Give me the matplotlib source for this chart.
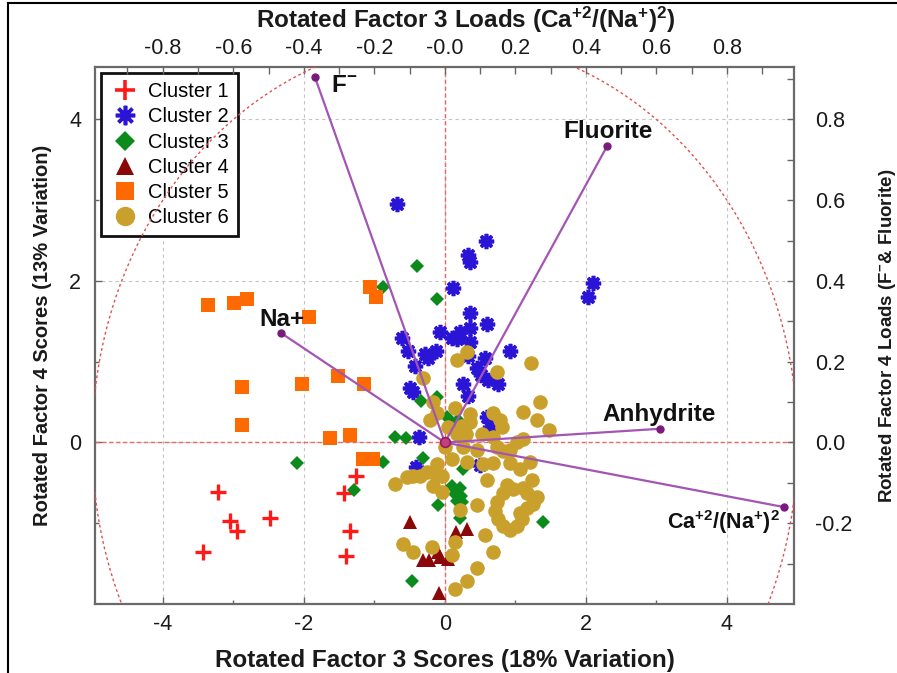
import numpy as np
import matplotlib
matplotlib.use("Agg")
import matplotlib.pyplot as plt
from matplotlib.lines import Line2D
from matplotlib.ticker import FormatStrFormatter

plt.rcParams['font.family'] = ['Liberation Sans', 'DejaVu Sans']
plt.rcParams['axes.unicode_minus'] = False
plt.rcParams['mathtext.fontset'] = 'custom'
plt.rcParams['mathtext.rm'] = 'Liberation Sans'
plt.rcParams['mathtext.bf'] = 'Liberation Sans:bold'

# ---- scores (Rotated Factor 3 vs Rotated Factor 4) per cluster ----
c1_x = [-3.22, -3.05, -2.94, -2.48, -3.43, -1.26, -1.43, -1.35, -1.40]
c1_y = [-0.61, -0.97, -1.10, -0.94, -1.36, -0.42, -0.63, -1.09, -1.41]

c2_x = [-0.68, 0.58, 0.33, 0.35, 0.11, 0.35, 0.60, -0.07, 0.21, 0.35, 0.10, 0.17,
        0.35, -0.61, -0.52, -0.28, -0.13, -0.24, -0.43, 0.92, 0.33, 0.57, 0.45,
        0.51, 0.61, 0.75, -0.50, -0.45, 0.26, 0.33, 0.10, 0.60, 0.64, -0.37,
        -0.41, 0.50, 2.10, 2.03]
c2_y = [2.95, 2.49, 2.32, 2.24, 1.91, 1.60, 1.47, 1.37, 1.37, 1.42, 1.30, 1.28,
        1.24, 1.29, 1.13, 1.10, 1.13, 1.05, 0.95, 1.13, 1.07, 1.05, 0.92,
        0.83, 0.77, 0.72, 0.68, 0.62, 0.72, 0.58, 0.22, 0.31, 0.19, 0.07,
        -0.30, -0.28, 1.98, 1.80]

c3_x = [-0.40, -0.87, -0.11, -0.34, -0.11, 0.03, 0.18, -0.70, -0.55, -0.31, -0.88,
        -2.10, -1.29, 0.26, -0.04, 0.10, 0.21, 0.14, 0.23, 0.17, 0.24, -0.10,
        0.21, 1.39, -0.47]
c3_y = [2.18, 1.93, 1.78, 0.51, 0.56, 0.32, 0.28, 0.07, 0.06, -0.19, -0.24,
        -0.26, -0.59, -0.33, -0.43, -0.54, -0.56, -0.64, -0.66, -0.73, -0.74, -0.77,
        -0.94, -0.98, -1.72]

c4_x = [-0.50, 0.16, 0.31, -0.31, -0.23, -0.10, -0.07, 0.04, -0.09]
c4_y = [-0.99, -1.11, -1.07, -1.45, -1.46, -1.35, -1.42, -1.44, -1.86]

c5_x = [-3.36, -2.99, -2.81, -1.93, -1.06, -0.98, -2.88, -2.03, -1.52, -1.15,
        -2.88, -1.63, -1.35, -1.16, -1.02]
c5_y = [1.70, 1.73, 1.78, 1.56, 1.93, 1.80, 0.69, 0.73, 0.82, 0.73,
        0.22, 0.06, 0.09, -0.21, -0.21]

c6_x = [0.17, 1.22, -0.31, 0.74, 1.35, 1.11, 1.31, 1.47, -0.17, -0.11, -0.21,
        0.35, 0.35, 0.24, 0.17, 0.30, 0.68, 0.78, 0.81, 0.52, 0.68, 1.02, 1.11,
        0.26, 0.45, 0.74, 0.82, 0.92, 0.10, 0.31, -0.11, 0.54, 0.68, 0.92, 1.06,
        1.21, -0.26, -0.16, -0.04, -0.54, -0.71, -0.45, -0.35, 0.60, 1.23, 0.88,
        -0.17, -0.04, 0.96, 1.11, 0.82, 1.16, 1.30, 1.25, 1.16, 1.06, 0.74, 0.71,
        0.75, 0.82, 0.92, 1.02, 1.09, 0.45, 0.21, 0.57, 0.14, -0.60, -0.45, -0.18,
        0.10, 0.68, 0.45, 0.31, 0.14, 0.00, 0.14, 0.04, 0.31]
c6_y = [1.02, 0.99, 0.80, 0.87, 0.50, 0.38, 0.28, 0.16, 0.50, 0.37, 0.28,
        0.35, 0.26, 0.20, 0.10, 0.10, 0.37, 0.28, 0.19, 0.10, 0.07, 0.01, 0.04,
        -0.05, -0.09, -0.06, -0.11, -0.09, -0.21, -0.24, -0.27, -0.27, -0.25, -0.25, -0.33,
        -0.24, -0.37, -0.38, -0.41, -0.43, -0.51, -0.42, -0.42, -0.47, -0.47, -0.53,
        -0.54, -0.61, -0.58, -0.56, -0.63, -0.63, -0.68, -0.76, -0.81, -0.87, -0.74, -0.85,
        -0.95, -1.04, -1.08, -1.04, -0.95, -0.77, -0.84, -1.14, -1.23, -1.26, -1.36, -1.30,
        -1.39, -1.35, -1.55, -1.72, -1.82, -0.05, 0.43, 0.19, 1.12]

# ---- loadings (Rotated Factor 3 vs Rotated Factor 4) ----
load_names = [r'F$\mathbf{^{-}}$', 'Fluorite', 'Na+', 'Anhydrite',
              r'Ca$\mathbf{^{+2}}$/(Na$\mathbf{^{+}}$)$\mathbf{^{2}}$']
load_x = [-0.368, 0.460, -0.466, 0.610, 0.962]
load_y = [0.904, 0.734, 0.272, 0.034, -0.160]
label_x = [-0.322, 0.462, -0.462, 0.607, 0.790]
label_y = [0.884, 0.770, 0.305, 0.069, -0.196]
label_ha = ['left', 'center', 'center', 'center', 'center']

cluster_labels = ['Cluster 1', 'Cluster 2', 'Cluster 3', 'Cluster 4', 'Cluster 5', 'Cluster 6']

fig = plt.figure(figsize=(8.97, 6.73), dpi=100)
rect = [95 / 897, 1 - 604 / 673, (794 - 95) / 897, (604 - 67) / 673]
ax = fig.add_axes(rect)
xlim = (-4.96, 4.95)
ylim = (-2.0, 4.65)
ax.set_xlim(*xlim)
ax.set_ylim(*ylim)

# grid and reference lines
ax.set_xticks([-4, -2, 0, 2, 4])
ax.set_xticks([-3, -1, 1, 3], minor=True)
ax.set_yticks([0, 2, 4])
ax.set_yticks([-1, 1, 3], minor=True)
ax.grid(True, which='major', color='#c4c4c4', linestyle=(0, (3, 3)), linewidth=0.8)
ax.axhline(0, color='#ee6666', linestyle=(0, (3, 2)), linewidth=1.0, zorder=1)
ax.axvline(0, color='#ee6666', linestyle=(0, (3, 2)), linewidth=1.0, zorder=1)
ax.set_axisbelow(True)

tick_kw = dict(direction='in', colors='#666666', labelcolor='#1a1a1a', labelsize=15.5)
ax.tick_params(axis='both', which='major', length=5, width=1.0, **tick_kw)
ax.tick_params(axis='both', which='minor', length=3, width=1.0, **tick_kw)
ax.tick_params(axis='x', which='major', pad=7)
ax.tick_params(axis='y', which='major', pad=10)
ax.tick_params(top=False, right=False, which='both')
for s in ax.spines.values():
    s.set_color('#6a6a6a')
    s.set_linewidth(1.6)

# cluster scatter
ax.plot(c1_x, c1_y, linestyle='none', marker='+', color='#ff1a1a', markersize=11, mew=2.4, zorder=3)
ax.plot(c2_x, c2_y, linestyle='none', marker=(8, 2, 0), color='#2a14d6', markersize=11, mew=2.6, zorder=3)
ax.plot(c3_x, c3_y, linestyle='none', marker='D', color='#0c8a1c', markersize=7, mew=0, zorder=3)
ax.plot(c4_x, c4_y, linestyle='none', marker='^', color='#8a0808', markersize=10, mew=0, zorder=3)
ax.plot(c5_x, c5_y, linestyle='none', marker='s', color='#ff6a00', markersize=10, mew=0, zorder=3)
ax.plot(c6_x, c6_y, linestyle='none', marker='o', color='#c9a02c', markersize=10.5, mew=0, zorder=3)

ax.set_xlabel('Rotated Factor 3 Scores (18% Variation)', fontsize=17.5, fontweight='bold',
              color='#1a1a1a', labelpad=10)
ax.set_ylabel('Rotated Factor 4 Scores (13% Variation)', fontsize=14.5, fontweight='bold',
              color='#1a1a1a', labelpad=12)

# legend
handles = [
    Line2D([], [], linestyle='none', marker='+', color='#ff1a1a', markersize=14, mew=2.6),
    Line2D([], [], linestyle='none', marker=(8, 2, 0), color='#2a14d6', markersize=14, mew=2.6),
    Line2D([], [], linestyle='none', marker='D', color='#0c8a1c', markersize=10, mew=0),
    Line2D([], [], linestyle='none', marker='^', color='#8a0808', markersize=13, mew=0),
    Line2D([], [], linestyle='none', marker='s', color='#ff6a00', markersize=13, mew=0),
    Line2D([], [], linestyle='none', marker='o', color='#c9a02c', markersize=14, mew=0),
]
leg = ax.legend(handles, cluster_labels, loc='upper left', bbox_to_anchor=(0.0, 1.0),
                fontsize=14.5, frameon=True, fancybox=False, framealpha=1,
                edgecolor='#111111', labelspacing=0.31, handletextpad=0.4,
                handlelength=1.5, borderpad=0.45, borderaxespad=0.3)
leg.get_frame().set_linewidth(2.0)
leg.set_zorder(6)

# loadings axes sharing the same frame
axl = fig.add_axes(rect)
axl.patch.set_visible(False)
axl.set_xlim(xlim[0] / 5, xlim[1] / 5)
axl.set_ylim(ylim[0] / 5, ylim[1] / 5)
for s in axl.spines.values():
    s.set_visible(False)
axl.xaxis.set_ticks_position('top')
axl.xaxis.set_label_position('top')
axl.yaxis.set_ticks_position('right')
axl.yaxis.set_label_position('right')
axl.set_xticks(np.round(np.arange(-0.8, 0.81, 0.2), 1))
axl.set_xticks(np.round(np.arange(-0.9, 0.91, 0.1), 1), minor=True)
axl.set_yticks(np.round(np.arange(-0.2, 0.81, 0.2), 1))
axl.set_yticks(np.round(np.arange(-0.3, 0.91, 0.1), 1), minor=True)
axl.xaxis.set_major_formatter(FormatStrFormatter('%.1f'))
axl.yaxis.set_major_formatter(FormatStrFormatter('%.1f'))
axl.tick_params(axis='both', which='major', length=5, width=1.0, **tick_kw)
axl.tick_params(axis='both', which='minor', length=5, width=1.0, **tick_kw)
axl.tick_params(axis='x', which='major', pad=6)
axl.tick_params(axis='y', which='major', pad=15)

# unit circle of the loadings
theta = np.linspace(0, 2 * np.pi, 400)
axl.plot(np.cos(theta), np.sin(theta), color='#e25050', linestyle=(0, (2, 2)), linewidth=1.0, zorder=2)

for nx, ny in zip(load_x, load_y):
    axl.plot([0, nx], [0, ny], color='#a455b4', linewidth=1.6, zorder=4)
axl.plot(load_x, load_y, linestyle='none', marker='o', color='#7a1a7e', markersize=5, zorder=5)
axl.plot([0], [0], linestyle='none', marker='o', markersize=7, markerfacecolor='#c04080',
         markeredgecolor='#9a1a5a', mew=1.2, zorder=5)
for i, (name, tx, ty, ha) in enumerate(zip(load_names, label_x, label_y, label_ha)):
    size = 15.5 if '$' in name and i > 0 else 17.5
    axl.text(tx, ty, name, ha=ha, va='center', fontsize=size, fontweight='bold',
             color='#111111', zorder=6)

axl.set_xlabel(r'Rotated Factor 3 Loads (Ca$\mathbf{^{+2}}$/(Na$\mathbf{^{+}}$)$\mathbf{^{2}}$)',
               fontsize=17.5, fontweight='bold', color='#1a1a1a', labelpad=7)
axl.xaxis.label.set_x(0.531)
axl.set_ylabel(r'Rotated Factor 4 Loads (F$\mathbf{^{-}}$& Fluorite)', fontsize=13.5,
               fontweight='bold', color='#1a1a1a', labelpad=18)

# outer border lines
fig.add_artist(Line2D([8 / 897, 8 / 897], [0, 1 - 3 / 673], color='black', linewidth=1.5))
fig.add_artist(Line2D([8 / 897, 1], [1 - 3 / 673, 1 - 3 / 673], color='black', linewidth=1.5))

fig.savefig('out.png', dpi=100)
